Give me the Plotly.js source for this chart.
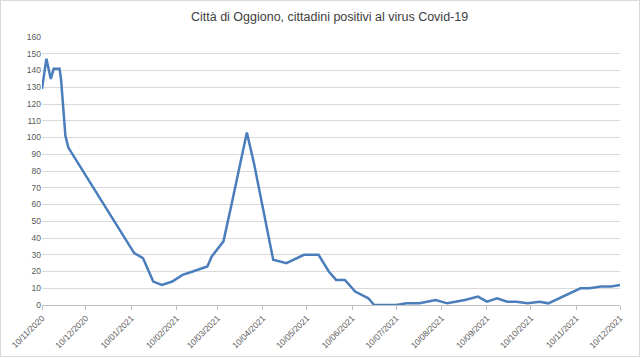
<!DOCTYPE html>
<html>
<head>
<meta charset="utf-8">
<script src="https://cdn.plot.ly/plotly-3.0.1.min.js"></script>
<style>
html,body{margin:0;padding:0;background:#fff;}
#chart{width:640px;height:357px;box-sizing:border-box;border:1px solid #d9d9d9;}
</style>
</head>
<body>
<div id="chart"></div>
<script>
const dates = [
  "2020-11-10","2020-11-13","2020-11-16","2020-11-18","2020-11-22","2020-11-23","2020-11-26","2020-11-28",
  "2021-01-12","2021-01-18","2021-01-25","2021-01-31","2021-02-07","2021-02-14","2021-02-21",
  "2021-03-03","2021-03-06","2021-03-14","2021-03-20","2021-03-30","2021-04-04","2021-04-17","2021-04-26",
  "2021-05-08","2021-05-18","2021-05-25","2021-05-30","2021-06-05","2021-06-12","2021-06-21","2021-06-25",
  "2021-07-10","2021-07-17","2021-07-26","2021-08-06","2021-08-14","2021-08-26","2021-09-04","2021-09-10",
  "2021-09-17","2021-09-24","2021-09-30","2021-10-08","2021-10-16","2021-10-22","2021-11-05","2021-11-13",
  "2021-11-19","2021-11-27","2021-12-04","2021-12-10"
];
const positivi = [
  129,147,135,141,141,135,101,94,
  31,28,14,12,14,18,20,
  23,29,38,62,103,84,27,25,
  30,30,20,15,15,8,4,0,
  0,1,1,3,1,3,5,2,
  4,2,2,1,2,1,7,10,
  10,11,11,12
];
const tickDates = ["2020-11-10","2020-12-10","2021-01-10","2021-02-10","2021-03-10","2021-04-10","2021-05-10",
  "2021-06-10","2021-07-10","2021-08-10","2021-09-10","2021-10-10","2021-11-10","2021-12-10"];
const tickLabels = ["10/11/2020","10/12/2020","10/01/2021","10/02/2021","10/03/2021","10/04/2021","10/05/2021",
  "10/06/2021","10/07/2021","10/08/2021","10/09/2021","10/10/2021","10/11/2021","10/12/2021"];
const chartTitle = "Città di Oggiono, cittadini positivi al virus Covid-19";

const trace = {
  x: dates, y: positivi, type: "scatter", mode: "lines",
  line: {color: "#4a7ebb", width: 2.5},
  hoverinfo: "x+y"
};
const layout = {
  width: 638, height: 355,
  margin: {l: 41, r: 19, t: 36, b: 51},
  paper_bgcolor: "#fff", plot_bgcolor: "#fff",
  showlegend: false,
  title: {text: chartTitle, x: 0.515, xanchor: "center", y: 0.955, yanchor: "middle",
    font: {family: "Liberation Sans, Arial, sans-serif", size: 12.5, color: "#404040"}},
  font: {family: "Liberation Sans, Arial, sans-serif", size: 8.5, color: "#595959"},
  xaxis: {
    type: "date",
    range: ["2020-11-10", "2021-12-10"],
    tickmode: "array", tickvals: tickDates, ticktext: tickLabels,
    tickangle: -45, ticks: "outside", ticklen: 4, tickcolor: "#bfbfbf",
    showgrid: false, showline: true, linecolor: "#bfbfbf", linewidth: 1,
    zeroline: false, fixedrange: true
  },
  yaxis: {
    range: [0, 160], dtick: 10, tick0: 0,
    showgrid: true, gridcolor: "#d9d9d9", gridwidth: 1,
    showline: false, zeroline: false, ticks: "", ticklen: 0,
    fixedrange: true
  }
};
Plotly.newPlot("chart", [trace], layout, {displayModeBar: false, staticPlot: true});
</script>
</body>
</html>
